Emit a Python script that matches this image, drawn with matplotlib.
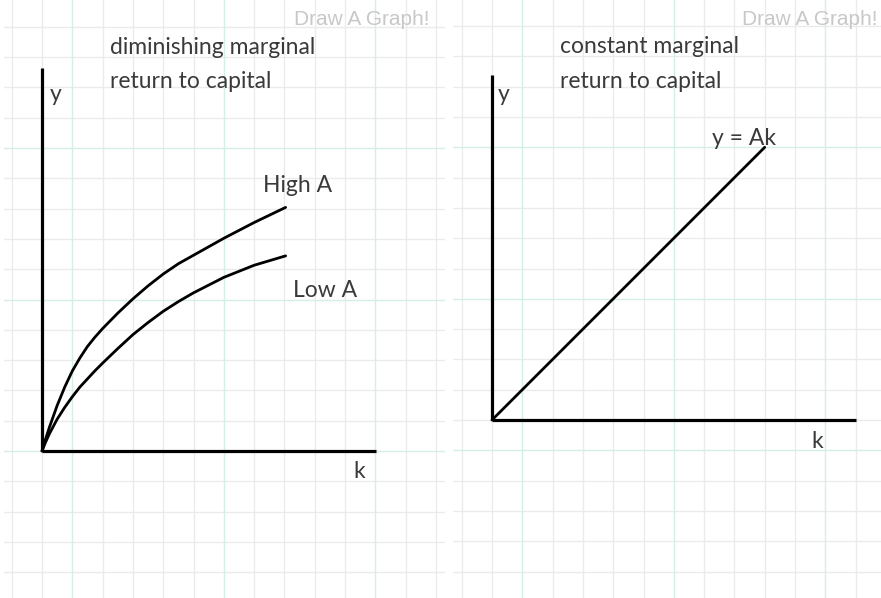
#!/usr/bin/env python3

import numpy as np
from matplotlib import pyplot as plt

# values in grid units (one grid cell = 1)
high_k = [0, 0.1, 0.25, 0.5, 0.75, 1, 1.25, 1.5, 1.75, 2, 2.5, 3, 3.5, 4, 4.5, 5, 6, 7, 8.04]
high_y = [0, 0.34, 0.80, 1.50, 2.11, 2.64, 3.07, 3.45, 3.76, 4.04, 4.55, 5.02, 5.45, 5.84, 6.18, 6.46, 7.02, 7.54, 8.04]
low_k = [0, 0.1, 0.25, 0.5, 0.75, 1, 1.25, 1.5, 1.75, 2, 2.5, 3, 3.5, 4, 4.5, 5, 6, 7, 8.04]
low_y = [0, 0.25, 0.58, 1.05, 1.44, 1.79, 2.11, 2.38, 2.65, 2.90, 3.38, 3.84, 4.24, 4.61, 4.93, 5.22, 5.73, 6.13, 6.44]
ak_k = [0, 9.0]
ak_y = [0, 9.0]

W, H = 881, 598
U = 30.3  # px per grid cell
GRAY = '#ebebeb'
CYAN = '#d3efe8'
INK = '#3a3a3a'
HAND = 'Lato'

fig = plt.figure(figsize=(W/100, H/100), dpi=100)

def panel(x0, x1, ox, oy, cyan_x, cyan_y):
	ax = fig.add_axes([x0/W, 0, (x1-x0)/W, 1])
	ax.set_xlim((x0-ox)/U, (x1-ox)/U)
	ax.set_ylim((oy-H)/U, oy/U)
	ax.axis('off')
	for i in range(int(np.floor((x0-ox)/U)), int(np.ceil((x1-ox)/U))+1):
		c = CYAN if (i - cyan_x) % 5 == 0 else GRAY
		ax.axvline(i, color=c, lw=1.0, zorder=0 if c == GRAY else 0.5)
	for j in range(int(np.floor((oy-H)/U)), int(np.ceil(oy/U))+1):
		c = CYAN if (j - cyan_y) % 5 == 0 else GRAY
		ax.axhline(j, color=c, lw=1.0, zorder=0 if c == GRAY else 0.5)
	return ax

def axes_lines(ax, xmax, ymax):
	ax.plot([0, 0], [0, ymax], color='black', lw=2.3, solid_capstyle='butt', zorder=3)
	ax.plot([0, xmax], [0, 0], color='black', lw=2.3, solid_capstyle='butt', zorder=3)

def hand(ax, x, y, s, **kw):
	ax.text(x, y, s, fontsize=16.5, color=INK, family=[HAND, 'DejaVu Sans'], va='baseline', **kw)

def brand(ax, x, y):
	ax.text(x, y, 'Draw A Graph!', fontsize=15, color='#c8c8c8', family='Liberation Sans',
		ha='right', va='baseline')

# left panel
ax1 = panel(4, 445, 42, 451, 1, 0)
axes_lines(ax1, 11.02, 12.64)
ax1.plot(high_k, high_y, color='black', lw=2.0, solid_capstyle='round', solid_joinstyle='round', zorder=3)
ax1.plot(low_k, low_y, color='black', lw=2.0, solid_capstyle='round', solid_joinstyle='round', zorder=3)
hand(ax1, 2.24, 13.10, 'diminishing marginal')
hand(ax1, 2.24, 11.98, 'return to capital')
hand(ax1, 0.26, 11.55, 'y')
hand(ax1, 7.29, 8.55, 'High A')
hand(ax1, 8.28, 5.08, 'Low A')
hand(ax1, 10.26, -0.89, 'k')
brand(ax1, 12.80, 14.06)

# right panel
ax2 = panel(453, 881, 492, 420, 1, 4)
axes_lines(ax2, 12.01, 11.39)
ax2.plot(ak_k, ak_y, color='black', lw=2.0, solid_capstyle='round', zorder=3)
hand(ax2, 2.24, 12.11, 'constant marginal')
hand(ax2, 2.24, 10.96, 'return to capital')
hand(ax2, 0.2, 10.53, 'y')
hand(ax2, 7.26, 9.08, 'y = Ak')
hand(ax2, 10.53, -0.92, 'k')
brand(ax2, 12.71, 13.04)

fig.savefig('out.png', dpi=100)
